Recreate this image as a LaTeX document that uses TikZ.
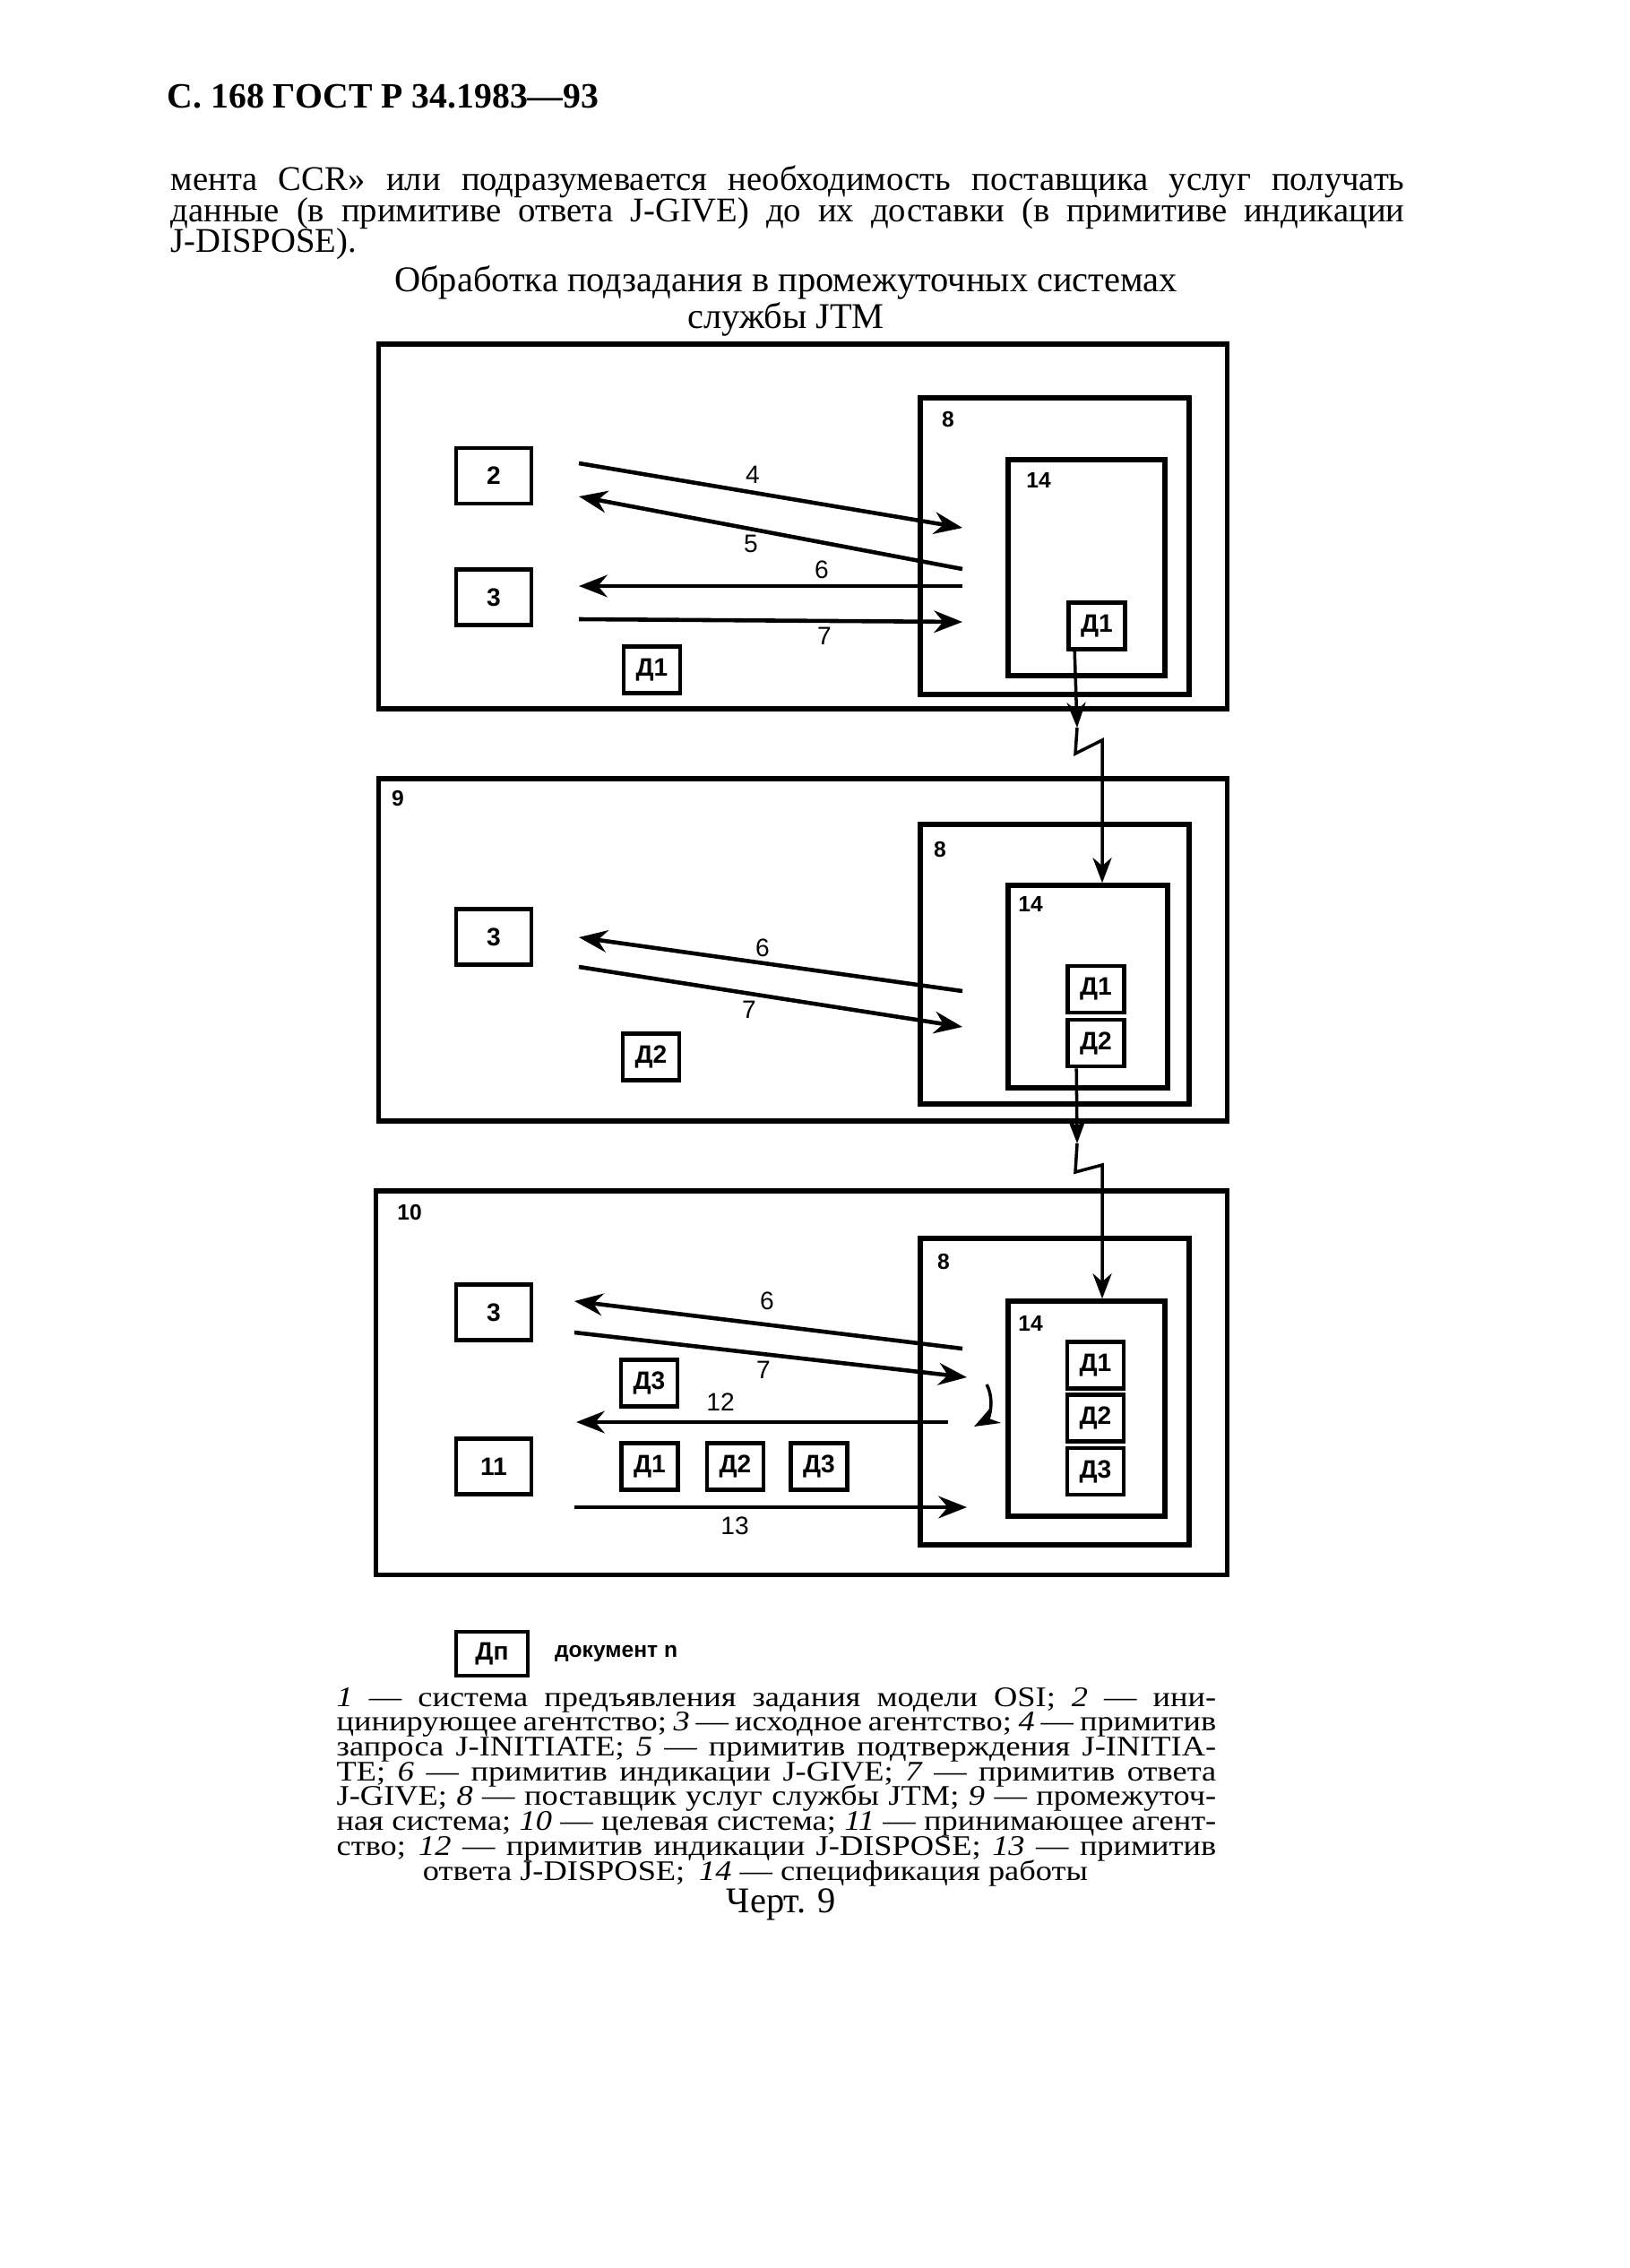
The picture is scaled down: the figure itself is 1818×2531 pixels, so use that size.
\documentclass[tikz,border=0pt]{standalone}
\usepackage{fontspec}
\setmainfont{Liberation Serif}
\setsansfont{Liberation Sans}
\newfontfamily\capfont[FakeStretch=1.15]{Liberation Serif}
\usetikzlibrary{positioning, arrows.meta}

\tikzset{
  frame/.style={draw, line width=1.5pt, rectangle, inner sep=0pt},
  agent/.style={draw, line width=1.3pt, minimum width=0.84cm, minimum height=0.62cm, font=\sffamily\bfseries\footnotesize},
  doc/.style={draw, line width=1.3pt, minimum width=0.63cm, minimum height=0.52cm, inner sep=1pt, font=\sffamily\bfseries\footnotesize},
  num/.style={font=\sffamily\footnotesize},
  tag/.style={font=\sffamily\bfseries\scriptsize},
  prim/.style={line width=1.3pt, -{Stealth[length=9pt,width=7pt]}},
  link/.style={line width=1pt, -{Stealth[length=8pt,width=6pt]}},
  txt/.style={anchor=base west, inner sep=0pt},
}

\begin{document}
\begin{tikzpicture}[x=0.01cm, y=-0.01cm]
\useasboundingbox (0,0) rectangle (1818,2531);

% page text
\node[txt, font=\fontsize{11.3}{12}\selectfont\bfseries] (head) at (186,121) {С. 168 ГОСТ Р 34.1983—93};
\node[txt, font=\fontsize{11}{12}\selectfont] (par1) at (190,213) {\makebox[13.76cm][s]{мента CCR» или подразумевается необходимость поставщика услуг получать}};
\node[txt, font=\fontsize{11}{12}\selectfont] (par2) at (190,248) {\makebox[13.76cm][s]{данные (в примитиве ответа J-GIVE) до их доставки (в примитиве индикации}};
\node[txt, font=\fontsize{11}{12}\selectfont] (par3) at (190,282) {J-DISPOSE).};
\node[anchor=north, inner sep=0pt, align=center, font=\fontsize{11.5}{9.2}\selectfont] (title) at (877,296) {Обработка подзадания в промежуточных системах\\службы JTM};

% system 1
\node[frame, minimum width=9.46cm, minimum height=4.07cm] (sysA) at (896,587.5) {};
\node[frame, minimum width=3.00cm, minimum height=3.31cm] (provA) at (1177,609.5) {};
\node[frame, minimum width=1.75cm, minimum height=2.41cm] (specA) at (1212.5,633.5) {};
\node[doc] (specAd1) at (1224,698.5) {Д1};
\node[tag] (provAt) at (1058,468) {8};
\node[tag] (specAt) at (1159,536) {14};
\node[agent] (initA) at (551,531) {2};
\node[agent] (srcA) at (551,666.5) {3};
\node[doc] (docA1) at (727.5,747.5) {Д1};

\coordinate (a4s) at (646,517);  \coordinate (a4e) at (1074,589);
\coordinate (a5s) at (1074,635); \coordinate (a5e) at (646,554);
\coordinate (a6s) at (1074,654); \coordinate (a6e) at (646,654);
\coordinate (a7s) at (646,691);  \coordinate (a7e) at (1074,694);
\draw[prim] (a4s) -- (a4e);
\draw[prim] (a5s) -- (a5e);
\draw[prim] (a6s) -- (a6e);
\draw[prim] (a7s) -- (a7e);
\node[num] (nA4) at (840,530) {4};
\node[num] (nA5) at (838,607) {5};
\node[num] (nA6) at (917,636) {6};
\node[num] (nA7) at (920,710) {7};

% system 2
\node[frame, minimum width=9.46cm, minimum height=3.82cm] (sysB) at (896,1060) {};
\node[frame, minimum width=3.00cm, minimum height=3.12cm] (provB) at (1177,1076) {};
\node[frame, minimum width=1.78cm, minimum height=2.26cm] (specB) at (1214,1101) {};
\node[doc] (specBd1) at (1223,1104) {Д1};
\node[doc] (specBd2) at (1223,1164) {Д2};
\node[tag] (sysBt) at (444,891) {9};
\node[tag] (provBt) at (1049,948) {8};
\node[tag] (specBt) at (1150,1009) {14};
\node[agent] (srcB) at (551,1045.5) {3};
\node[doc] (docB2) at (726.5,1179.5) {Д2};

\coordinate (b6s) at (1074,1106); \coordinate (b6e) at (646,1046);
\coordinate (b7s) at (646,1079);  \coordinate (b7e) at (1074,1146);
\draw[prim] (b6s) -- (b6e);
\draw[prim] (b7s) -- (b7e);
\node[num] (nB6) at (851,1058) {6};
\node[num] (nB7) at (836,1127) {7};

% system 3
\node[frame, minimum width=9.49cm, minimum height=4.28cm] (sysC) at (894.5,1543) {};
\node[frame, minimum width=3.00cm, minimum height=3.42cm] (provC) at (1177,1553) {};
\node[frame, minimum width=1.75cm, minimum height=2.40cm] (specC) at (1212.5,1572) {};
\node[doc] (specCd1) at (1222.5,1523.5) {Д1};
\node[doc] (specCd2) at (1222.5,1582.5) {Д2};
\node[doc] (specCd3) at (1222.5,1642) {Д3};
\node[tag] (sysCt) at (457,1353) {10};
\node[tag] (provCt) at (1053,1408) {8};
\node[tag] (specCt) at (1150,1477) {14};
\node[agent] (srcC) at (551,1464.5) {3};
\node[agent] (recvC) at (551,1636.5) {11};
\node[doc] (docC3) at (724.5,1543.5) {Д3};
\node[doc] (rowC1) at (725,1636.5) {Д1};
\node[doc] (rowC2) at (820.5,1636.5) {Д2};
\node[doc] (rowC3) at (914,1636.5) {Д3};

\coordinate (c6s) at (1074,1505);  \coordinate (c6e) at (641,1452);
\coordinate (c7s) at (641,1487);   \coordinate (c7e) at (1079,1537);
\coordinate (c12s) at (1058,1587); \coordinate (c12e) at (643,1587);
\coordinate (c13s) at (641,1682);  \coordinate (c13e) at (1079,1682);
\coordinate (turnA) at (1101,1545); \coordinate (turnB) at (1087,1592);
\draw[prim] (c6s) -- (c6e);
\draw[prim] (c7s) -- (c7e);
\draw[prim] (c12s) -- (c12e);
\draw[prim] (c13s) -- (c13e);
\draw[link] (turnA) to[bend left=45] (turnB);
\node[num] (nC6) at (856,1452) {6};
\node[num] (nC7) at (852,1529) {7};
\node[num] (nC12) at (804,1565) {12};
\node[num] (nC13) at (820,1703) {13};

% transfer between systems
\coordinate (zigA1) at (1202,812); \coordinate (zigA2) at (1200,841); \coordinate (zigA3) at (1230,826);
\coordinate (zigB1) at (1202,1276); \coordinate (zigB2) at (1200,1308); \coordinate (zigB3) at (1230,1300);
\draw[link] ([xshift=0.09cm]specAd1.south west) -- (zigA1);
\draw[link] (zigA1) -- (zigA2) -- (zigA3) -- (zigA3 |- specB.north);
\draw[link] ([xshift=0.12cm]specBd2.south west) -- (zigB1);
\draw[link] (zigB1) -- (zigB2) -- (zigB3) -- (zigB3 |- specC.north);

% legend
\node[doc, minimum width=0.80cm, minimum height=0.49cm] (legDoc) at (549,1845.5) {Дп};
\node[right=0.27cm of legDoc, inner sep=0pt, font=\sffamily\bfseries\scriptsize] (legTxt) {документ n};

% caption
\foreach \t [count=\i] in {%
  {{\itshape 1} — система предъявления задания модели OSI; {\itshape 2} — ини-},
  {цинирующее агентство; {\itshape 3} — исходное агентство; {\itshape 4} — примитив},
  {запроса J-INITIATE; {\itshape 5} — примитив подтверждения J-INITIA-},
  {TE; {\itshape 6} — примитив индикации J-GIVE; {\itshape 7} — примитив ответа},
  {J-GIVE; {\itshape 8} — поставщик услуг службы JTM; {\itshape 9} — промежуточ-},
  {ная система; {\itshape 10} — целевая система; {\itshape 11} — принимающее агент-},
  {ство; {\itshape 12} — примитив индикации J-DISPOSE; {\itshape 13} — примитив}}
  \node[txt, font=\capfont\fontsize{9}{9}\selectfont] (cap\i) at (375,{1904+27.7*(\i-1)}) {\makebox[9.81cm][s]{\t}};
\node[anchor=base, inner sep=0pt, font=\capfont\fontsize{9}{9}\selectfont] (capLast) at (843,2098) {ответа J-DISPOSE;\enspace {\itshape 14} — спецификация работы};
\node[anchor=base, inner sep=0pt, font=\fontsize{11.5}{12}\selectfont] (fig) at (872,2134) {Черт. 9};
\end{tikzpicture}
\end{document}
